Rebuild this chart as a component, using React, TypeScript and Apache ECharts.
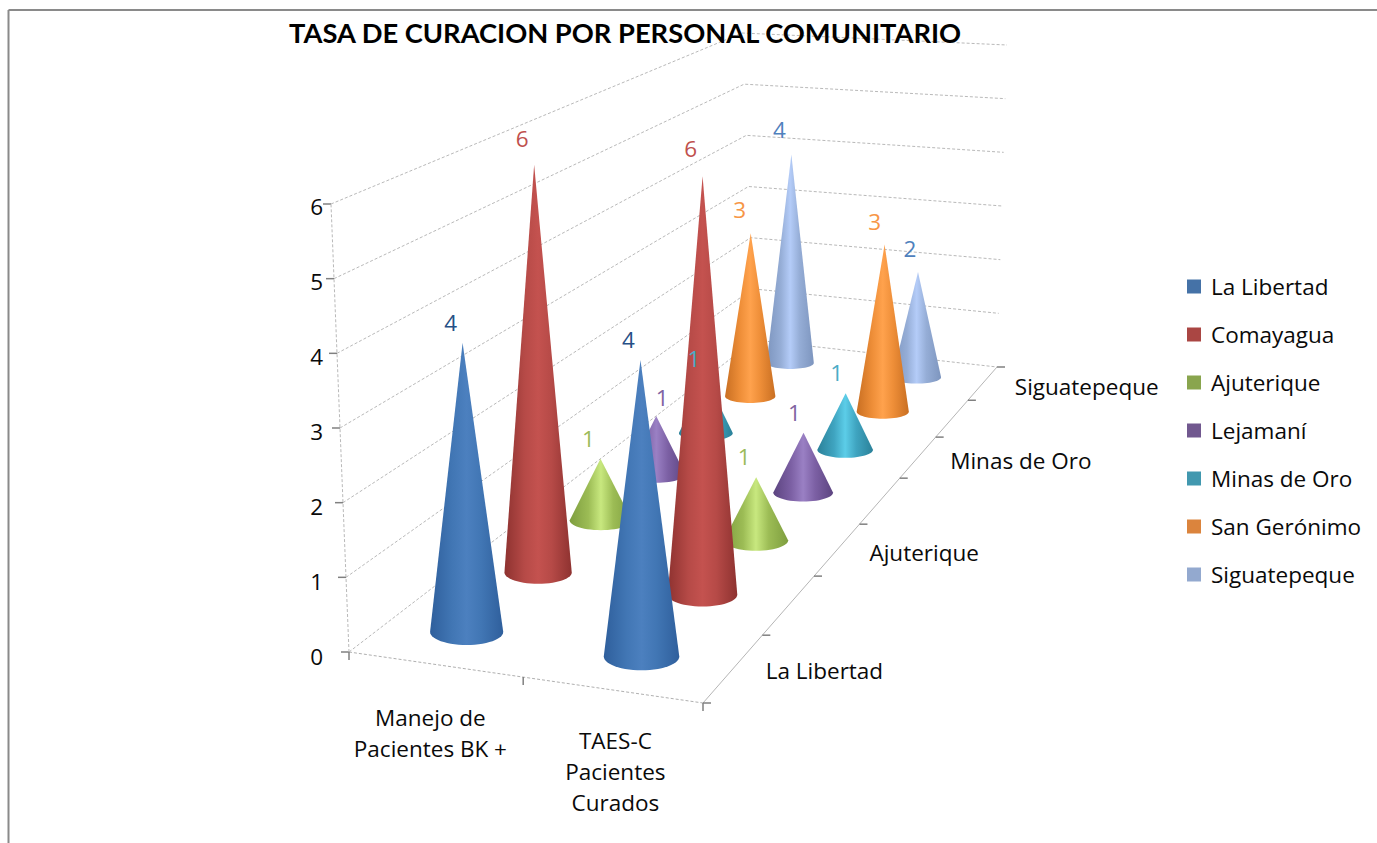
import React, { useEffect, useRef } from "react";
import * as echarts from "echarts";

const titleText = "TASA DE CURACION POR PERSONAL COMUNITARIO";
const categories = ["Manejo de\nPacientes BK +", "TAES-C\nPacientes\nCurados"];
const regions = ["La Libertad", "Comayagua", "Ajuterique", "Lejamaní", "Minas de Oro", "San Gerónimo", "Siguatepeque"];
const valueTicks = [0, 1, 2, 3, 4, 5, 6];

const laLibertad = [4, 4];
const comayagua = [6, 6];
const ajuterique = [1, 1];
const lejamani = [1, 1];
const minasDeOro = [1, 1];
const sanGeronimo = [3, 3];
const siguatepeque = [4, 2];
const seriesValues = [laLibertad, comayagua, ajuterique, lejamani, minasDeOro, sanGeronimo, siguatepeque];

const legendColors = ["#4572a7", "#aa4643", "#89a54e", "#71588f", "#4198af", "#db843d", "#93a9cf"];
const labelColors = ["#264f86", "#c0504d", "#9bbb59", "#8064a2", "#4bacc6", "#f79646", "#4f81bd"];
const coneEdge = ["#2f5f9c", "#8e3230", "#7e9e3f", "#5c4480", "#2b8199", "#c96f22", "#7d95be"];
const coneBody = ["#4176b4", "#b64a47", "#9cbc55", "#7c60a4", "#3fa4c0", "#ee8e38", "#95add6"];
const coneMid = ["#4c80bf", "#c4524f", "#c8e87f", "#9a80c4", "#5ccde8", "#ffa24d", "#b4ccf8"];

const FONT = "'Open Sans'";
const FS = 22.5;

// Projection of the 3D box: floor quad and top-plane quad (FL, FR, BR, BL)
const floorQuad = [[349, 652], [703, 703], [997, 367], [755, 340]];
const topQuad = [[331, 204], [702, 232], [1007, 45], [742, 33]];
const maxValue = 6;
const catCenters = [0.226, 0.737];

// Placement of each value label relative to its cone tip, per region then category
const labelShift = [
  [[-12, -20], [-12, -20]],
  [[-12, -26], [-12, -28]],
  [[-12, -20], [-12, -21]],
  [[6, -19], [-9, -20]],
  [[-12, -20], [-9, -21]],
  [[-11, -24], [-10, -23]],
  [[-12, -25], [-8, -23]],
];

function homography(q: number[][]) {
  const [[x0, y0], [x1, y1], [x2, y2], [x3, y3]] = q;
  const dx1 = x1 - x2, dx2 = x3 - x2, sx = x0 - x1 + x2 - x3;
  const dy1 = y1 - y2, dy2 = y3 - y2, sy = y0 - y1 + y2 - y3;
  const det = dx1 * dy2 - dx2 * dy1;
  const g = (sx * dy2 - dx2 * sy) / det;
  const h = (dx1 * sy - sx * dy1) / det;
  const a = x1 - x0 + g * x1, b = x3 - x0 + h * x3;
  const d = y1 - y0 + g * y1, e = y3 - y0 + h * y3;
  return (u: number, v: number) => {
    const w = g * u + h * v + 1;
    return [(a * u + b * v + x0) / w, (d * u + e * v + y0) / w];
  };
}
const floorH = homography(floorQuad);
const topH = homography(topQuad);
function P(u: number, d: number, v: number) {
  const a = floorH(u, d), b = topH(u, d), t = v / maxValue;
  return [a[0] + (b[0] - a[0]) * t, a[1] + (b[1] - a[1]) * t];
}

function coneGeometry(cat: number, depth: number, value: number) {
  const u = catCenters[cat];
  const d = (depth + 0.5) / regions.length;
  const b0 = P(u, d, 0);
  const base = [b0[0], b0[1] + 1.5];
  const t0 = P(u, d, value);
  const height = b0[1] - t0[1] - 3;
  const lean = (base[0] - 700) * 0.00006;
  const tip = [base[0] + lean * height, base[1] - height];
  const unit = P(u, d, 1);
  const s = Math.hypot(unit[0] - b0[0], unit[1] - b0[1]);
  const hw = 0.643 * s - 10.4;
  const ry = hw * (0.25 + (s - 52) * 0.0052);
  return { base, tip, hw, ry };
}

const dash = { stroke: "#b9b9b9", lineWidth: 1, lineDash: [3, 2] };
const tickStyle = { stroke: "#808080", lineWidth: 1.5 };
const line = (a: number[], b: number[], style: any) => ({
  type: "line",
  shape: { x1: a[0], y1: a[1], x2: b[0], y2: b[1] },
  style,
});
const textEl = (text: string, x: number, y: number, align: string, extra: any = {}) => ({
  type: "text",
  style: {
    text, x, y, align, verticalAlign: "middle",
    fill: "#0a0a0a", fontFamily: FONT, fontSize: FS, ...extra,
  },
});

const catLabelOffset = [[-5, 69], [3, 82]];

function renderFrame() {
  const children: any[] = [];
  valueTicks.forEach((v) => {
    children.push({
      type: "polyline",
      shape: { points: [P(0, 0, v), P(0, 1, v), P(1, 1, v)] },
      style: { ...dash, fill: "none" },
    });
    const p = P(0, 0, v);
    children.push(line([p[0] - 8, p[1]], [p[0], p[1]], tickStyle));
  });
  children.push(line(P(0, 0, 0), P(0, 0, maxValue), dash));
  children.push(line(P(0, 0, 0), P(1, 0, 0), { ...dash, stroke: "#b0b0b0" }));
  children.push(line(P(1, 0, 0), P(1, 1, 0), { stroke: "#b5b5b5", lineWidth: 1 }));
  // category ticks and labels
  for (let i = 0; i <= categories.length; i++) {
    const p = P(i / categories.length, 0, 0);
    children.push(line(p, [p[0], p[1] + 8], tickStyle));
  }
  categories.forEach((c, i) => {
    const p = P((i + 0.5) / categories.length, 0, 0);
    children.push(textEl(c, p[0] + catLabelOffset[i][0], p[1] + catLabelOffset[i][1], "center", { lineHeight: 31 }));
  });
  // depth ticks and labels (every second region, as in the reference)
  for (let j = 0; j <= regions.length; j++) {
    const p = P(1, j / regions.length, 0);
    children.push(line(p, [p[0] + 8, p[1]], tickStyle));
  }
  regions.forEach((r, j) => {
    if (j % 2 !== 0) return;
    const p = P(1, (j + 0.5) / regions.length, 0);
    children.push(textEl(r, p[0] + 32, p[1] + 3, "left"));
  });
  return { type: "group", children };
}

function coneRenderer(depth: number) {
  return (_params: any, api: any) => {
    const cat = api.value(0);
    const value = api.value(1);
    const { base, tip, hw, ry } = coneGeometry(cat, depth, value);
    const points: number[][] = [tip];
    const N = 28;
    for (let k = 0; k <= N; k++) {
      const t = (Math.PI * k) / N;
      points.push([base[0] + hw * Math.cos(t), base[1] + ry * Math.sin(t)]);
    }
    return {
      type: "polygon",
      shape: { points },
      style: {
        fill: new echarts.graphic.LinearGradient(0, 0, 1, 0, [
          { offset: 0, color: coneEdge[depth] },
          { offset: 0.3, color: coneBody[depth] },
          { offset: 0.5, color: coneMid[depth] },
          { offset: 0.7, color: coneBody[depth] },
          { offset: 1, color: coneEdge[depth] },
        ]),
      },
    };
  };
}

function renderValueLabel(_params: any, api: any) {
  const depth = api.value(2);
  const cat = api.value(0);
  const { tip } = coneGeometry(cat, depth, api.value(1));
  const [dx, dy] = labelShift[depth][cat];
  return textEl(String(api.value(1)), tip[0] + dx, tip[1] + dy, "center", { fill: labelColors[depth] });
}

const labelRows: number[][] = [];
seriesValues.forEach((vals, depth) => vals.forEach((v, cat) => labelRows.push([cat, v, depth])));

export default function App() {
  const ref = useRef<HTMLDivElement>(null);
  useEffect(() => {
    const chart = echarts.init(ref.current!, undefined, { renderer: "svg" });
    chart.setOption({
      animation: false,
      backgroundColor: "#ffffff",
      title: {
        text: titleText,
        left: 284,
        top: 14,
        textStyle: { fontFamily: "Lato", fontSize: 27.3, fontWeight: "bold", color: "#000000" },
      },
      legend: {
        orient: "vertical",
        left: 1182,
        top: 270,
        itemWidth: 14,
        itemHeight: 14,
        itemGap: 25,
        icon: "rect",
        selectedMode: false,
        textStyle: { fontFamily: FONT, fontSize: FS, color: "#0a0a0a", padding: [0, 0, 0, 5] },
        data: regions.map((name, i) => ({ name, itemStyle: { color: legendColors[i] } })),
      },
      grid: { left: 331, top: 206, width: 660, height: 450 },
      xAxis: { type: "category", data: categories, show: false },
      yAxis: {
        type: "value",
        min: 0,
        max: maxValue,
        interval: 1,
        axisLine: { show: false },
        axisTick: { show: false },
        splitLine: { show: false },
        axisLabel: { fontFamily: FONT, fontSize: FS, color: "#0a0a0a", margin: 8 },
      },
      graphic: [
        { type: "line", shape: { x1: 8.5, y1: 10, x2: 1377, y2: 10 }, style: { stroke: "#8a8a8a", lineWidth: 2 } },
        { type: "line", shape: { x1: 8.5, y1: 10, x2: 8.5, y2: 843 }, style: { stroke: "#8a8a8a", lineWidth: 2 } },
      ],
      series: [
        { name: "frame", type: "custom", coordinateSystem: "none", data: [[0]], z: 1, silent: true, renderItem: renderFrame },
        ...regions.map((name, depth) => ({
          name,
          type: "custom",
          coordinateSystem: "cartesian2d",
          z: 20 - depth,
          silent: true,
          itemStyle: { color: legendColors[depth] },
          data: seriesValues[depth].map((v, cat) => [cat, v]),
          encode: { x: 0, y: 1 },
          renderItem: coneRenderer(depth),
        })),
        {
          name: "labels",
          type: "custom",
          coordinateSystem: "cartesian2d",
          z: 40,
          silent: true,
          data: labelRows,
          encode: { x: 0, y: 1 },
          renderItem: renderValueLabel,
        },
      ],
    });
    return () => chart.dispose();
  }, []);
  return <div ref={ref} style={{ position: "fixed", left: 0, top: 0, width: 1377, height: 843, background: "#fff" }} />;
}
